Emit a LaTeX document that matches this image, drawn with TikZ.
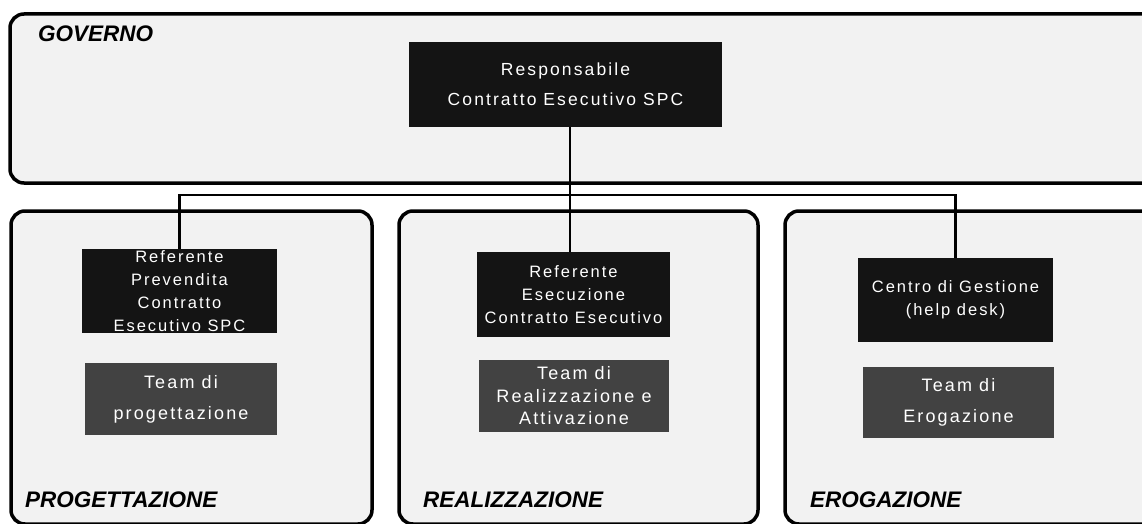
\documentclass[tikz,border=0pt]{standalone}
\usepackage{fontspec}
\setmainfont{Liberation Sans}
\newfontfamily\boxfont[LetterSpace=12]{Liberation Sans}
\usetikzlibrary{positioning}
\colorlet{refColor}{black!92}
\colorlet{teamColor}{black!74}
\colorlet{areaFill}{black!5}
\tikzset{
  area/.style={draw=black, line width=3.5pt, rounded corners=14pt, fill=areaFill},
  areaname/.style={anchor=base west, inner sep=0pt,
    font=\fontsize{22.5}{26}\selectfont\bfseries\itshape},
  refbox/.style={fill=refColor, text=white, align=center, inner sep=0pt,
    font=\boxfont\fontsize{16.5}{23}\selectfont},
  teambox/.style={refbox, fill=teamColor, font=\boxfont\fontsize{18}{22.5}\selectfont},
  link/.style={line width=2.5pt}
}

\begin{document}
\begin{tikzpicture}[x=1pt,y=-1pt]
				\useasboundingbox (0,0) rectangle (1142,524);
				\clip (0,0) rectangle (1142,524);
				% aree
				\draw[area] (10,14) rectangle (1175,183);
				\draw[area] (11,211) rectangle (372,524);
				\draw[area] (399,211) rectangle (758,524);
				\draw[area] (785,211) rectangle (1175,524);
				\node[areaname] (gov) at (38,42) {GOVERNO};
				\node[areaname] (prog) at (25,507) {PROGETTAZIONE};
				\node[areaname] (real) at (423,507) {REALIZZAZIONE};
				\node[areaname] (erog) at (810,507) {EROGAZIONE};
				
				\node[refbox, font=\boxfont\fontsize{17.5}{30}\selectfont,
				  minimum width=313pt, minimum height=85pt] (resp) at (565.5,84.5)
				  {Responsabile\\Contratto Esecutivo SPC};
				
				\node[refbox, minimum width=195pt, minimum height=84pt] (refprev) at (179.5,291)
				  {Referente\\Prevendita\\Contratto\\Esecutivo SPC};
				\node[teambox, font=\boxfont\fontsize{18}{31}\selectfont,
				  minimum width=192pt, minimum height=72pt] (teamprog) at (181,399)
				  {Team di\\progettazione};
				
				\node[refbox, minimum width=193pt, minimum height=85pt] (refes) at (573.5,294.5)
				  {Referente\\Esecuzione\\Contratto Esecutivo};
				\node[teambox, minimum width=190pt, minimum height=72pt] (teamreal) at (574,396)
				  {Team di\\Realizzazione e\\Attivazione};
				
				\node[refbox, minimum width=195pt, minimum height=84pt] (centro) at (955.5,300)
				  {Centro di Gestione\\(help desk)};
				\node[teambox, font=\boxfont\fontsize{18}{31}\selectfont,
				  minimum width=191pt, minimum height=71pt] (teamerog) at (958.5,402.5)
				  {Team di\\Erogazione};
				
				% collegamenti
				\coordinate (bus) at (570,195);
				\draw[link] (bus |- resp.south) -- (bus);
				\draw[link] (bus) -| (refprev.north);
				\draw[link] (bus) -- (bus |- refes.north);
				\draw[link] (bus) -| (centro.north);
\end{tikzpicture}
\end{document}
